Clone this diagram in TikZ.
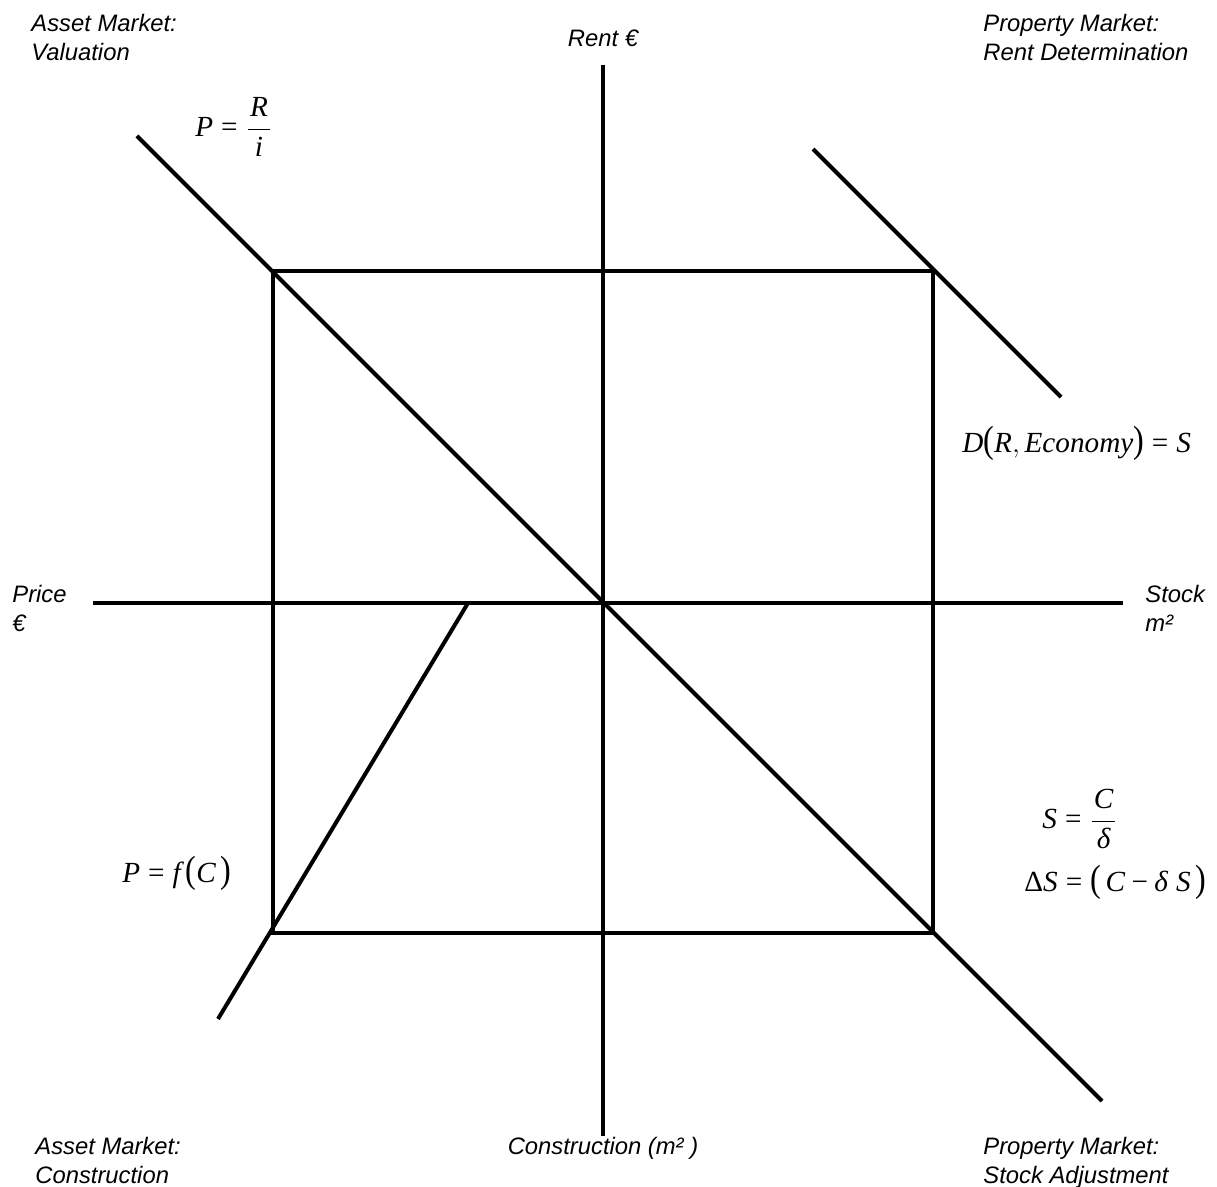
\documentclass[tikz,border=0pt]{standalone}
\usepackage{fontspec}
\usepackage{graphicx}
\setmainfont{Liberation Sans}
\newfontfamily\tms{Liberation Serif}
\newcommand{\tv}[1]{\hbox{\tms\itshape #1}}
\newcommand{\tu}[1]{\hbox{\tms #1}}
\newcommand{\fr}[2]{\displaystyle\frac{\hbox{\kern1pt#1\kern1pt}}{\hbox{#2}}}
\newcommand{\lpar}{\mathopen{\hbox{\scalebox{1.1}[1.3]{\tms (}}}}
\newcommand{\rpar}{\mathclose{\hbox{\scalebox{1.1}[1.3]{\tms )}}}}
\begin{document}
\begin{tikzpicture}[x=0.5pt,y=-0.5pt,
  lbl/.style={inner sep=0pt,anchor=base west,font=\fontsize{11.9}{14}\selectfont\itshape},
  lblc/.style={inner sep=0pt,anchor=base,font=\fontsize{11.9}{14}\selectfont\itshape},
  eqn/.style={inner sep=0pt,font=\fontsize{14.6}{17}\selectfont},
  ln/.style={line width=2pt}]
\useasboundingbox (0,0) rectangle (1217,1187);
% coordinates
\coordinate (hL) at (93,603);
\coordinate (hR) at (1123,603);
\coordinate (vT) at (603,65);
\coordinate (vB) at (603,1136);
\coordinate (rNW) at (273,271);
\coordinate (rNE) at (933,271);
\coordinate (rSE) at (933,933);
\coordinate (rSW) at (273,933);
\coordinate (dA) at (137,136);
\coordinate (dB) at (1102,1101);
\coordinate (nA) at (813,149);
\coordinate (nB) at (1061,397);
\coordinate (sA) at (468,603);
\coordinate (sB) at (218,1019);
% axes
\draw[ln] (hL) -- (hR);
\draw[ln] (vT) -- (vB);
% rectangle
\draw[ln] (rNW) -- (rNE) -- (rSE) -- (rSW) -- cycle;
% curves
\draw[ln] (dA) -- (dB);
\draw[ln] (nA) -- (nB);
\draw[ln] (sA) -- (sB);
% labels
\node[lbl] (tl1) at (31,32) {Asset Market:};
\node[lbl] (tl2) at (31,61) {Valuation};
\node[lbl] (tr1) at (983,32) {Property Market:};
\node[lbl] (tr2) at (983,61) {Rent Determination};
\node[lblc] (rent) at (603,47) {Rent €};
\node[lbl] (pr1) at (12,603) {Price};
\node[lbl] (pr2) at (12,632) {€};
\node[lbl] (st1) at (1145,603) {Stock};
\node[lbl] (st2) at (1145,632) {m²};
\node[lbl] (bl1) at (35,1154) {Asset Market:};
\node[lbl] (bl2) at (35,1183) {Construction};
\node[lbl] (br1) at (983,1154) {Property Market:};
\node[lbl] (br2) at (983,1183) {Stock Adjustment};
\node[lblc] (con) at (603,1154) {Construction (m² )};
% equations
\node[eqn,anchor=west] (eq1) at (195,127) {$\tv{P}\mathrel{\tu{=}}\fr{\tv{R}}{\tv{i}}$};
\node[eqn,anchor=base west] (eq2) at (962,453) {$\tv{D}\lpar\tv{R}, \tv{Economy}\rpar\mathrel{\tu{=}}\tv{S}$};
\node[eqn,anchor=west] (eq3) at (1042,819) {$\tv{S}\mathrel{\tu{=}}\fr{\tv{C}}{\tv{δ}}$};
\node[eqn,anchor=base west] (eq4) at (1024,892) {$\tu{Δ}\tv{S}\mathrel{\tu{=}}\lpar\,\tv{C}\mathbin{\tu{−}}\tv{δ}\;\tv{S}\,\rpar$};
\node[eqn,anchor=base west] (eq5) at (122,882) {$\tv{P}\mathrel{\tu{=}}\tv{f}\,\lpar\tv{C}\,\rpar$};
\end{tikzpicture}
\end{document}
